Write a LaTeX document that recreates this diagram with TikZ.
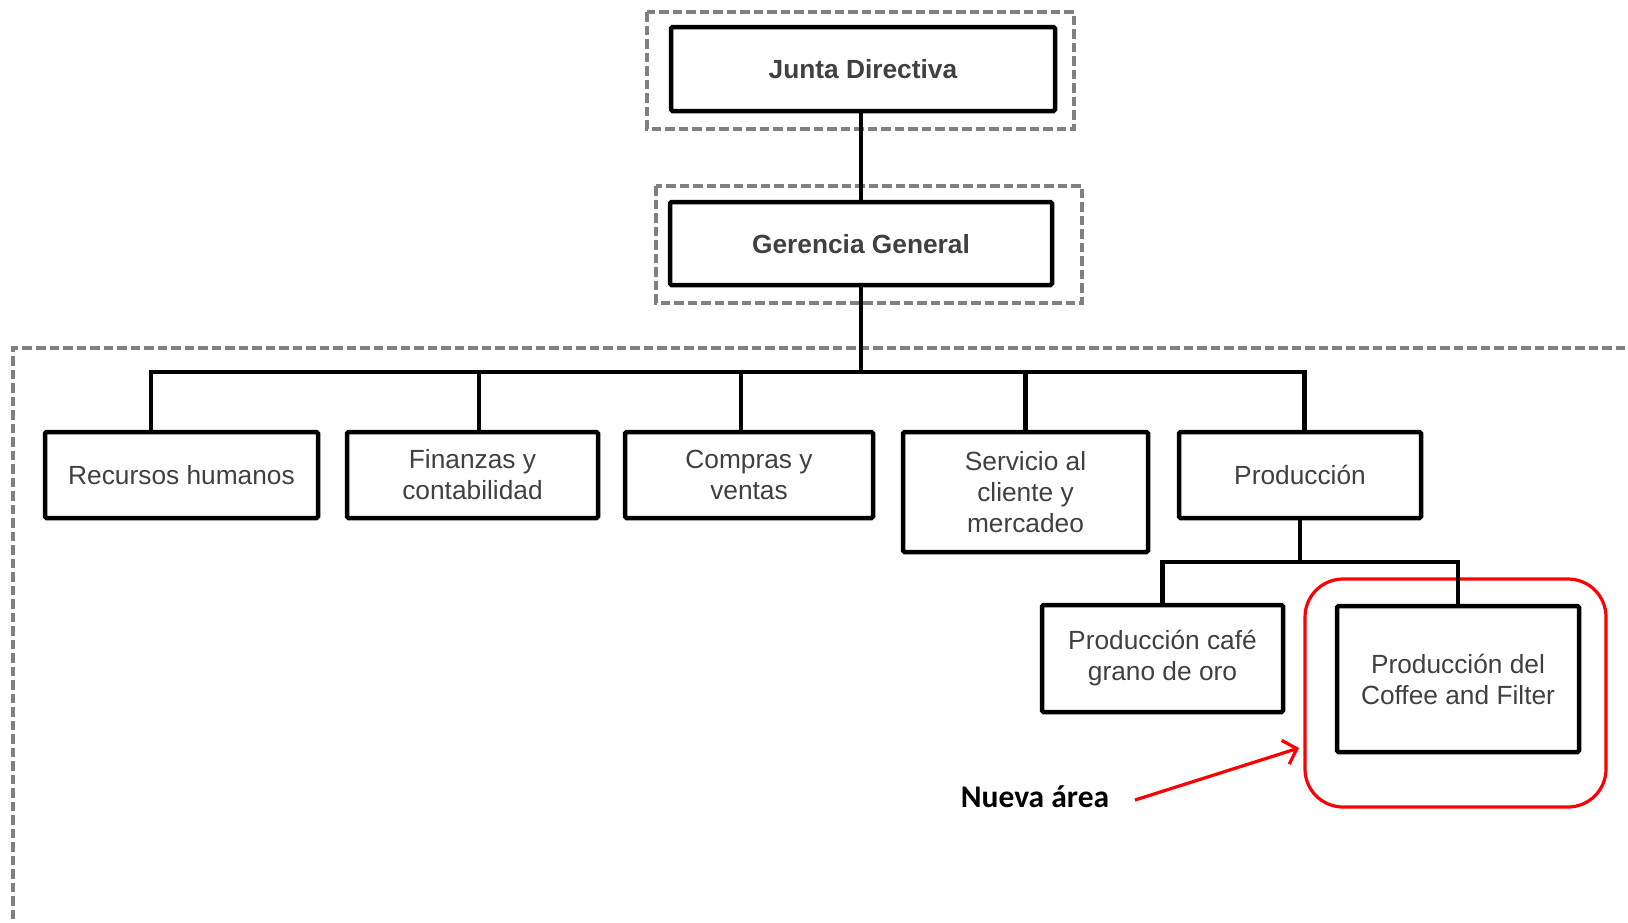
\documentclass[tikz,border=0pt]{standalone}
\usepackage{fontspec}
\setmainfont{Liberation Sans}
\newfontfamily\notefont{Carlito}
\usetikzlibrary{arrows.meta}
\definecolor{txtgray}{HTML}{404040}
\definecolor{dashgray}{HTML}{808080}
\definecolor{markred}{HTML}{FF0000}

\begin{document}
\begin{tikzpicture}[x=1pt,y=-1pt,
  orgbox/.style={draw=black, line width=4.5pt, rounded corners=1.5pt, fill=white,
    text=txtgray, align=center, inner sep=0pt,
    font=\fontsize{26.3}{31}\selectfont},
  groupframe/.style={draw=dashgray, line width=3.2pt, dash pattern=on 9.5pt off 4pt},
  link/.style={draw=black, line width=4.5pt},
  highlight/.style={draw=markred, line width=3.2pt, rounded corners=38pt},
  note/.style={text=black, inner sep=0pt, font=\notefont\bfseries\fontsize{31.5}{37}\selectfont},
  pointer/.style={draw=markred, line width=3.2pt, -{Straight Barb[length=12pt,width=25pt]}},
]
\useasboundingbox (0,0) rectangle (1628,922);
\clip (0,0) rectangle (1628,922);
\fill[white] (0,0) rectangle (1628,922);

% dashed group frames
\draw[groupframe] (647,12) rectangle (1074,129);
\draw[groupframe] (656,186) rectangle (1082,303);
\draw[groupframe] (13,1000) -- (13,348) -- (1700,348);

% highlight around the new area
\node[highlight, minimum width=301pt, minimum height=228pt] (newarea) at (1455.5,693) {};

% boxes
\node[orgbox, minimum width=384pt, minimum height=84pt, text depth=0pt] (jd) at (863,69) {\textbf{Junta Directiva}};
\node[orgbox, minimum width=382pt, minimum height=83pt, text depth=0pt] (gg) at (861,243.5) {\textbf{Gerencia General}};

\node[orgbox, minimum width=273pt, minimum height=86pt] (rh) at (181.5,475) {Recursos humanos};
\node[orgbox, minimum width=251pt, minimum height=86pt] (fc) at (472.5,475) {Finanzas y\\contabilidad};
\node[orgbox, minimum width=248pt, minimum height=86pt] (cv) at (749,475) {Compras y\\ventas};
\node[orgbox, minimum width=245pt, minimum height=120pt] (sc) at (1025.5,492) {Servicio al\\cliente y\\mercadeo};
\node[orgbox, minimum width=242pt, minimum height=86pt] (pr) at (1300,475) {Producción};

\node[orgbox, minimum width=241pt, minimum height=107pt] (go) at (1162.5,658.5) {Producción café\\grano de oro};
\node[orgbox, minimum width=242pt, minimum height=146pt] (cf) at (1458,679) {Producción del\\Coffee and Filter};

% connectors
\coordinate (bus) at (0,372);
\coordinate (sub) at (0,562);
\coordinate (rhTop) at ([xshift=-30.5pt]rh.north);
\coordinate (fcTop) at ([xshift=6.5pt]fc.north);
\coordinate (cvTop) at ([xshift=-8pt]cv.north);
\coordinate (scTop) at (sc.north);
\coordinate (prTop) at ([xshift=4.5pt]pr.north);

\draw[link] (jd.south -| gg.north) -- (gg.north);
\draw[link] (gg.south) -- (gg.south |- bus);
\draw[link] (rhTop) -- (rhTop |- bus) -- (prTop |- bus) -- (prTop);
\draw[link] (fcTop) -- (fcTop |- bus);
\draw[link] (cvTop) -- (cvTop |- bus);
\draw[link] (scTop) -- (scTop |- bus);
\draw[link] (pr.south) -- (pr.south |- sub);
\draw[link] (go.north) -- (go.north |- sub) -- (cf.north |- sub) -- (cf.north);

% note and pointer
\node[note] (nueva) at (1035,797) {Nueva área};
\coordinate (tail) at (1135,800);
\coordinate (tip) at (1299,748);
\draw[pointer] (tail) -- (tip);
\end{tikzpicture}
\end{document}
